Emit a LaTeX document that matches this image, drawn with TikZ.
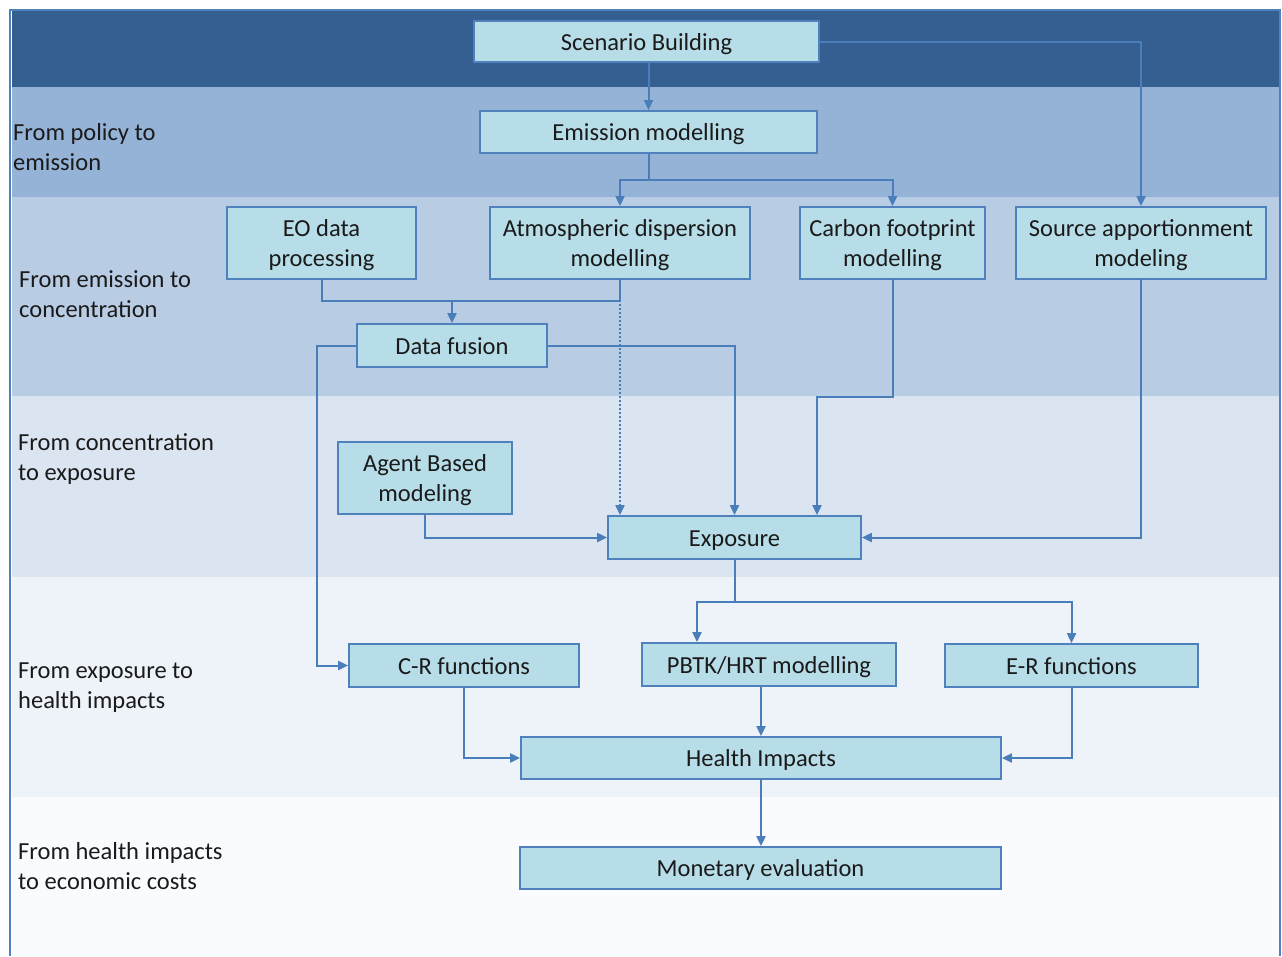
\documentclass[tikz,border=0pt]{standalone}
\usepackage{fontspec}
\setmainfont{Carlito}
\usetikzlibrary{arrows.meta,calc}
\definecolor{bandA}{HTML}{365F91}
\definecolor{bandB}{HTML}{95B3D7}
\definecolor{bandC}{HTML}{B8CCE4}
\definecolor{bandD}{HTML}{DBE5F1}
\definecolor{bandE}{HTML}{EEF3FA}
\definecolor{bandF}{HTML}{F9FBFE}
\definecolor{boxfill}{HTML}{B7DDE8}
\definecolor{boxline}{HTML}{4F81BD}
\definecolor{conn}{HTML}{4A7EBB}
\definecolor{txt}{HTML}{1A1A1A}
\newcommand\bxt[1]{\raisebox{-2.5pt}[\height][\depth]{\begin{tabular}{@{}c@{}}#1\end{tabular}}}
\tikzset{
  stepbox/.style={draw=boxline, line width=1.8pt, fill=boxfill, inner sep=0pt,
    text=txt, font=\fontsize{24.5}{30}\selectfont},
  lbl/.style={anchor=north west, inner sep=0pt, align=left, text=txt, font=\fontsize{24.5}{30}\selectfont},
  arr/.style={draw=conn, line width=2pt, -{Triangle[length=10pt,width=9pt]}},
  ln/.style={draw=conn, line width=2pt},
}
\begin{document}
\begin{tikzpicture}[x=1pt,y=-1pt]
\useasboundingbox (0,0) rectangle (1282,956);
\fill[white] (0,0) rectangle (1282,956);
% bands
\fill[bandA] (12,10) rectangle (1279,87);
\fill[bandB] (12,87) rectangle (1279,197);
\fill[bandC] (12,197) rectangle (1279,396);
\fill[bandD] (12,396) rectangle (1279,577);
\fill[bandE] (12,577) rectangle (1279,797);
\fill[bandF] (12,797) rectangle (1279,956);
\draw[boxline, line width=2pt] (10,956) -- (10,10) -- (1280,10) -- (1280,956);
% side labels
\node[lbl] (l1) at (13,123) {From policy to\\emission};
\node[lbl] (l2) at (19,270) {From emission to\\concentration};
\node[lbl] (l3) at (18,433) {From concentration\\to exposure};
\node[lbl] (l4) at (18,663) {From exposure to\\health impacts};
\node[lbl] (l5) at (18,842) {From health impacts\\to economic costs};
% boxes
\node[stepbox, minimum width=345pt, minimum height=41pt] (scen) at (646.5,41.5) {\bxt{Scenario Building}};
\node[stepbox, minimum width=337pt, minimum height=42pt] (emis) at (648.5,132) {\bxt{Emission modelling}};
\node[stepbox, minimum width=189pt, minimum height=72pt] (eo) at (321.5,243) {\bxt{EO data\\processing}};
\node[stepbox, minimum width=260pt, minimum height=72pt] (atm) at (620,243) {\bxt{Atmospheric dispersion\\modelling}};
\node[stepbox, minimum width=185pt, minimum height=72pt] (carb) at (892.5,243) {\bxt{Carbon footprint\\modelling}};
\node[stepbox, minimum width=250pt, minimum height=72pt] (src) at (1141,243) {\bxt{Source apportionment\\modeling}};
\node[stepbox, minimum width=190pt, minimum height=43pt] (fus) at (452,345.5) {\bxt{Data fusion}};
\node[stepbox, minimum width=174pt, minimum height=72pt] (agent) at (425,478) {\bxt{Agent Based\\modeling}};
\node[stepbox, minimum width=253pt, minimum height=43pt] (expo) at (734.5,537.5) {\bxt{Exposure}};
\node[stepbox, minimum width=230pt, minimum height=43pt] (cr) at (464,665.5) {\bxt{C-R functions}};
\node[stepbox, minimum width=254pt, minimum height=43pt] (pbtk) at (769,664.5) {\bxt{PBTK/HRT modelling}};
\node[stepbox, minimum width=253pt, minimum height=43pt] (er) at (1071.5,665.5) {\bxt{E-R functions}};
\node[stepbox, minimum width=480pt, minimum height=42pt] (health) at (761,758) {\bxt{Health Impacts}};
\node[stepbox, minimum width=481pt, minimum height=42pt] (money) at (760.5,868) {\bxt{Monetary evaluation}};
% junction coordinates
\coordinate (j1) at (648.5,180);
\coordinate (j2) at (452,301);
\coordinate (j3) at (817,397);
\coordinate (j4) at (697,602);
% connectors
\draw[arr] (scen.south -| emis.north) -- (emis.north);
\draw[arr] (scen.east) -| (src.north);
\draw[arr] (emis.south) -- (j1) -| (atm.north);
\draw[arr] (emis.south) -- (j1) -| (carb.north);
\draw[ln] (eo.south) |- (j2) -| (atm.south);
\draw[arr] (j2) -- (fus.north);
\draw[arr, dotted] (atm.south) -- (atm.south |- expo.north);
\draw[arr] (fus.east) -| (expo.north);
\draw[arr] (fus.west) -- ++(-39,0) |- (cr.west);
\draw[arr] (carb.south) |- (j3) -- (j3 |- expo.north);
\draw[arr] (src.south) |- (expo.east);
\draw[arr] (agent.south) |- (expo.west);
\draw[arr] (expo.south) |- (j4) -- (j4 |- pbtk.north);
\draw[arr] (expo.south) |- (j4) -| (er.north);
\draw[arr] (cr.south) |- (health.west);
\draw[arr] (health.north |- pbtk.south) -- (health.north);
\draw[arr] (er.south) |- (health.east);
\draw[arr] (health.south) -- (health.south |- money.north);
\end{tikzpicture}
\end{document}
